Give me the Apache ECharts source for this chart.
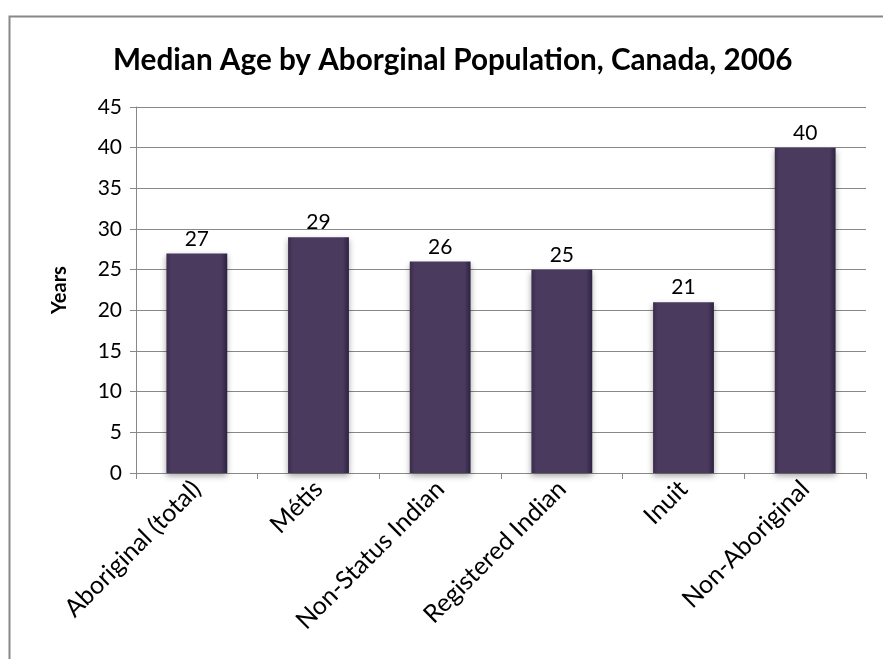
<!DOCTYPE html>
<html><head><meta charset="utf-8">
<script src="https://cdn.jsdelivr.net/npm/echarts@6/dist/echarts.min.js"></script>
<style>html,body{margin:0;padding:0;background:#fff}#c{width:883px;height:659px}</style>
</head><body><div id="c"></div>
<script>
const categories = ["Aboriginal (total)", "Métis", "Non-Status Indian", "Registered Indian", "Inuit", "Non-Aboriginal"];
const medianAge = [27, 29, 26, 25, 21, 40];
const yTicks = [0, 5, 10, 15, 20, 25, 30, 35, 40, 45];

const FONT = "Lato, 'Open Sans', sans-serif";
const chart = echarts.init(document.getElementById('c'));
chart.setOption({
  animation: false,
  backgroundColor: '#fff',
  title: {
    text: 'Median Age by Aborginal Population, Canada, 2006',
    left: 108, top: 40,
    textStyle: { fontFamily: FONT, fontSize: 29.7, fontWeight: 'bold', color: '#000' }
  },
  graphic: [{
    type: 'rect', left: 7, top: 14, z: -1,
    shape: { width: 900, height: 700 },
    style: { fill: 'none', stroke: '#888', lineWidth: 2 }
  }],
  grid: { left: 136, right: 17, top: 107, bottom: 186, containLabel: false },
  xAxis: {
    type: 'category', data: categories,
    axisLine: { lineStyle: { color: '#888', width: 1 } },
    axisTick: { show: true, alignWithLabel: false, length: 6, lineStyle: { color: '#888' } },
    axisLabel: { rotate: 45, fontFamily: FONT, fontSize: 25, color: '#000', margin: 12, interval: 0 }
  },
  yAxis: {
    type: 'value', min: yTicks[0], max: yTicks[yTicks.length - 1], interval: 5,
    name: 'Years', nameLocation: 'middle', nameGap: 66, nameRotate: 90,
    nameTextStyle: { fontFamily: FONT, fontSize: 20, fontWeight: 'bold', color: '#000' },
    axisLine: { show: true, lineStyle: { color: '#888' } },
    axisTick: { show: true, length: 6, lineStyle: { color: '#888' } },
    axisLabel: { fontFamily: FONT, fontSize: 21, color: '#000', margin: 14 },
    splitLine: { lineStyle: { color: '#888', width: 1 } }
  },
  series: [{
    type: 'bar', data: medianAge, barWidth: '50%',
    itemStyle: {
      color: new echarts.graphic.LinearGradient(0, 0, 1, 0, [
        { offset: 0, color: '#3a2c4b' },
        { offset: 0.08, color: '#4a3a5e' },
        { offset: 0.9, color: '#4a3a5e' },
        { offset: 1, color: '#2c2240' }
      ]),
      borderColor: '#3a2d4b', borderWidth: 0,
      shadowColor: 'rgba(0,0,0,0.35)', shadowBlur: 6, shadowOffsetY: 3
    },
    label: { show: true, position: 'top', distance: 4, fontFamily: FONT, fontSize: 21, color: '#000' }
  }]
});
</script></body></html>
